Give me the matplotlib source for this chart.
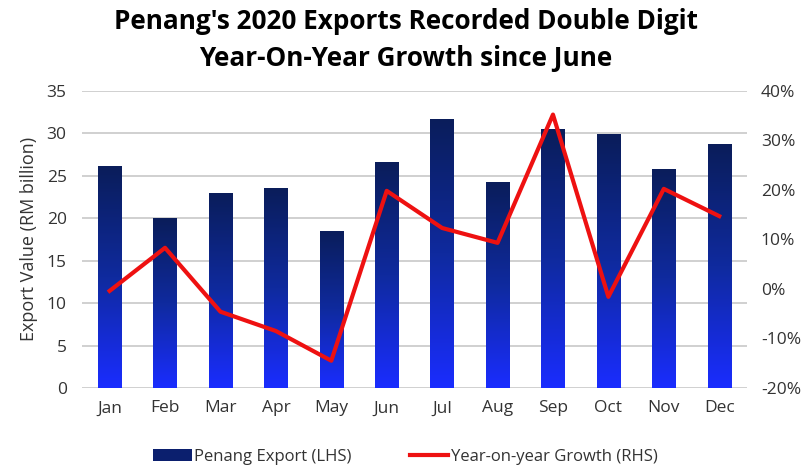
import numpy as np
import matplotlib.pyplot as plt
from matplotlib.patches import Patch
from matplotlib.lines import Line2D
from matplotlib.colors import LinearSegmentedColormap
from matplotlib.ticker import FuncFormatter

plt.rcParams['font.family'] = ['Open Sans', 'DejaVu Sans']

# data
months = ['Jan', 'Feb', 'Mar', 'Apr', 'May', 'Jun', 'Jul', 'Aug', 'Sep', 'Oct', 'Nov', 'Dec']
exports = [26.1, 20.0, 23.0, 23.5, 18.5, 26.6, 31.7, 24.3, 30.5, 29.9, 25.8, 28.7]
yoy_growth = [-0.4, 8.3, -4.6, -8.5, -14.5, 19.8, 12.3, 9.3, 35.2, -1.6, 20.2, 14.7]

left_ticks = [0, 5, 10, 15, 20, 25, 30, 35]
right_ticks = [-20, -10, 0, 10, 20, 30, 40]

fig = plt.figure(figsize=(8.11, 4.68), dpi=100)
ax = fig.add_axes([0.101, 0.171, 0.82, 0.635])
ax2 = ax.twinx()

x = np.arange(len(months))
bars = ax.bar(x, exports, width=0.42, color='#0b2a8a', zorder=2)

# vertical gradient inside each bar: dark navy at top, bright blue at bottom
grad_cmap = LinearSegmentedColormap.from_list('bar_grad', ['#1a2dff', '#0f2a9e', '#0a1d5a'])
gradient = np.linspace(0, 1, 256).reshape(-1, 1)
for b in bars:
    bx, by = b.get_x(), b.get_y()
    bw, bh = b.get_width(), b.get_height()
    im = ax.imshow(gradient, cmap=grad_cmap, aspect='auto', origin='lower',
                   extent=[bx, bx + bw, by, by + bh], zorder=2)
    im.set_clip_path(b)

ax.set_xlim(-0.5, len(months) - 0.5)
ax.set_ylim(0, 35)
ax.set_yticks(left_ticks)
ax.set_xticks(x)
ax.set_xticklabels(months)
ax.grid(axis='y', color='#c8c8c8', linewidth=1.2, zorder=0)
ax.set_axisbelow(True)
ax.set_ylabel('Export Value (RM billion)', fontsize=13, color='#333333', labelpad=6)

ax2.plot(x, yoy_growth, color='#ee1111', linewidth=3, zorder=3)
ax2.set_ylim(-20, 40)
ax2.set_yticks(right_ticks)
ax2.yaxis.set_major_formatter(FuncFormatter(lambda v, p: f'{v:.0f}%'))

for a in (ax, ax2):
    for s in a.spines.values():
        s.set_visible(False)
    a.tick_params(length=0, labelsize=12.5, labelcolor='#333333')
ax.tick_params(axis='x', pad=9)
ax.tick_params(axis='y', pad=11)
ax2.tick_params(axis='y', pad=10)

fig.suptitle("Penang's 2020 Exports Recorded Double Digit\nYear-On-Year Growth since June",
             fontsize=18.8, fontweight='bold', y=0.982, linespacing=1.45)

handles = [Patch(facecolor='#0b1f6e', label='Penang Export (LHS)'),
           Line2D([0], [0], color='#ee1111', linewidth=3, label='Year-on-year Growth (RHS)')]
fig.legend(handles=handles, loc='lower center', ncol=2, frameon=False,
           bbox_to_anchor=(0.5, -0.025), fontsize=12, handlelength=2.3,
           columnspacing=3.5, handletextpad=0.15, labelcolor='#333333')

fig.savefig('out.png', dpi=100)
